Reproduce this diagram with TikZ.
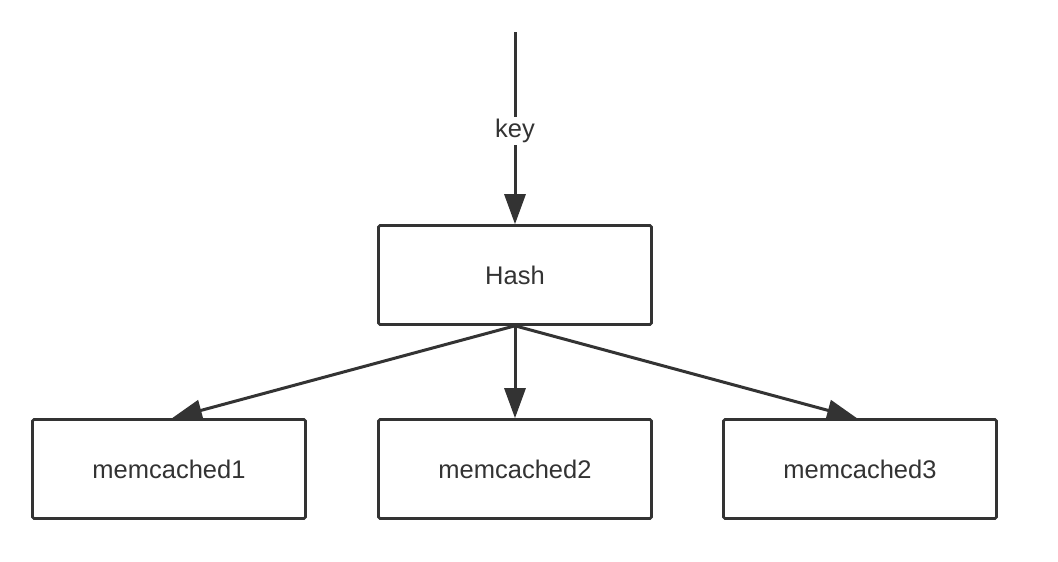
\documentclass[tikz,border=0pt]{standalone}
\usepackage{fontspec}
\setmainfont{Liberation Sans}
\usetikzlibrary{arrows.meta}
\definecolor{ink}{HTML}{333333}
\begin{document}
\begin{tikzpicture}[x=1pt,y=-1pt,
  box/.style={draw=ink,line width=2.6pt,fill=white,rounded corners=1.5pt,minimum width=273pt,minimum height=99pt,inner sep=0pt,text=ink,font=\fontsize{25.5}{30}\selectfont},
  conn/.style={draw=ink,line width=3pt,-{Triangle[length=30pt,width=21pt]}},
  lbl/.style={fill=white,text=ink,inner sep=2pt,font=\fontsize{25.5}{30}\selectfont}]
\useasboundingbox (0,0) rectangle (1058,562);
\fill[white] (0,0) rectangle (1058,562);
\node[box] (hash) at (515,275) {Hash};
\node[box] (m1) at (169,469) {memcached1};
\node[box] (m2) at (515,469) {memcached2};
\node[box] (m3) at (860,469) {memcached3};
\coordinate (top) at (515,32);
\draw[conn] (top) -- (hash.north) node[lbl,pos=0.515] {key};
\draw[conn] (hash.south) -- ([xshift=3pt]m1.north);
\draw[conn] (hash.south) -- (m2.north);
\draw[conn] (hash.south) -- ([xshift=-3pt]m3.north);
\end{tikzpicture}
\end{document}
